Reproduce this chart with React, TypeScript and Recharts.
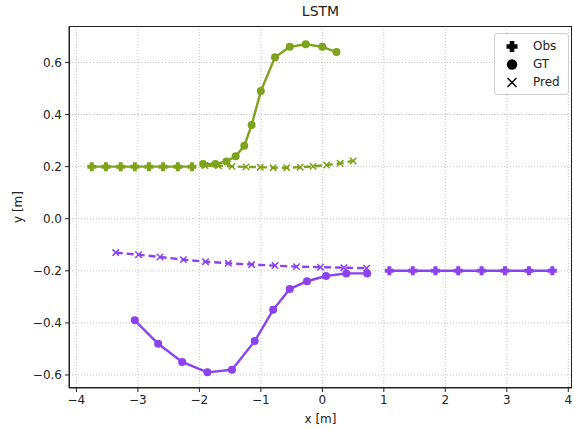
import { Scatter, ScatterChart, XAxis, YAxis, CartesianGrid } from "recharts"

const GREEN = "#7da21b"
const PURPLE = "#8a43ee"
const GRID_COLOR = "#c4c4c4"
const FONT = "'DejaVu Sans', sans-serif"

// agent 1 (green)
const greenObsX = [-3.75, -3.52, -3.28, -3.05, -2.82, -2.59, -2.35, -2.12]
const greenObsY = [0.2, 0.2, 0.2, 0.2, 0.2, 0.2, 0.2, 0.2]
const greenGtX = [-1.94, -1.74, -1.56, -1.41, -1.27, -1.15, -1.0, -0.77, -0.53, -0.27, 0.0, 0.23]
const greenGtY = [0.21, 0.21, 0.22, 0.24, 0.28, 0.36, 0.49, 0.62, 0.66, 0.67, 0.66, 0.64]
const greenPredX = [-1.91, -1.69, -1.47, -1.24, -1.01, -0.8, -0.58, -0.36, -0.15, 0.07, 0.29, 0.5]
const greenPredY = [0.204, 0.203, 0.201, 0.199, 0.198, 0.196, 0.196, 0.198, 0.201, 0.206, 0.213, 0.222]

// agent 2 (purple)
const purpleObsX = [1.09, 1.47, 1.84, 2.21, 2.59, 2.97, 3.36, 3.74]
const purpleObsY = [-0.2, -0.2, -0.2, -0.2, -0.2, -0.2, -0.2, -0.2]
const purpleGtX = [-3.05, -2.67, -2.28, -1.87, -1.47, -1.1, -0.8, -0.53, -0.25, 0.06, 0.39, 0.73]
const purpleGtY = [-0.39, -0.48, -0.55, -0.59, -0.58, -0.47, -0.35, -0.27, -0.24, -0.22, -0.21, -0.21]
const purplePredX = [-3.36, -2.99, -2.64, -2.26, -1.9, -1.53, -1.15, -0.77, -0.42, -0.03, 0.35, 0.72]
const purplePredY = [-0.13, -0.138, -0.147, -0.157, -0.165, -0.171, -0.176, -0.18, -0.184, -0.186, -0.188, -0.19]

const xTicks = [-4, -3, -2, -1, 0, 1, 2, 3, 4]
const yTicks = [-0.6, -0.4, -0.2, 0.0, 0.2, 0.4, 0.6]
const legendLabels = ["Obs", "GT", "Pred"]

const zip = (xs: number[], ys: number[]) => xs.map((x, i) => ({ x, y: ys[i] }))

const minus = (s: string) => s.replace("-", "\u2212")

// plot box (px) — used for frame, title and legend placement
const PLOT = { left: 69, top: 26, right: 572, bottom: 388 }

function PlusMark({ cx, cy, fill, s = 4.5, t = 2 }: any) {
	const a = s
	const d = `M${cx - t},${cy - a} H${cx + t} V${cy - t} H${cx + a} V${cy + t} H${cx + t} V${cy + a} H${cx - t} V${cy + t} H${cx - a} V${cy - t} H${cx - t} Z`
	return <path d={d} fill={fill} />
}

function DotMark({ cx, cy, fill, r = 4 }: any) {
	return <circle cx={cx} cy={cy} r={r} fill={fill} />
}

function XMark({ cx, cy, stroke, s = 3.2, w = 1.5 }: any) {
	return (
		<g stroke={stroke} strokeWidth={w}>
			<line x1={cx - s} y1={cy - s} x2={cx + s} y2={cy + s} />
			<line x1={cx - s} y1={cy + s} x2={cx + s} y2={cy - s} />
		</g>
	)
}

function LegendBox() {
	return (
		<div
			style={{
				position: "absolute",
				top: 33,
				left: 494,
				border: "1px solid #d0d0d0",
				borderRadius: 3,
				background: "rgba(255,255,255,0.85)",
				width: 75,
				height: 62,
				boxSizing: "border-box",
				fontFamily: FONT,
				fontSize: 12,
				color: "#222",
			}}
		>
			{legendLabels.map((label, i) => (
				<div key={label} style={{ position: "absolute", top: 4 + i * 18, left: 0, height: 17, width: 74 }}>
					<svg width={30} height={17} style={{ position: "absolute", left: 4, top: 0 }}>
						{i === 0 && <PlusMark cx={13} cy={8.5} fill="#000" s={5.5} t={2.3} />}
						{i === 1 && <DotMark cx={13} cy={8.5} fill="#000" r={5.2} />}
						{i === 2 && <XMark cx={13} cy={8.5} stroke="#000" s={4.5} w={1.3} />}
					</svg>
					<span style={{ position: "absolute", left: 38, top: 0, lineHeight: "17px" }}>{label}</span>
				</div>
			))}
		</div>
	)
}

const XLabel = ({ viewBox }: any) => (
	<text x={viewBox.x + viewBox.width / 2} y={viewBox.y + 35} textAnchor="middle" fontSize={12} fill="#222" fontFamily={FONT}>
		x [m]
	</text>
)

const YLabel = ({ viewBox }: any) => {
	const cx = 18
	const cy = viewBox.y + viewBox.height / 2
	return (
		<text x={cx} y={cy} transform={`rotate(-90 ${cx} ${cy})`} textAnchor="middle" dominantBaseline="central" fontSize={12} fill="#222" fontFamily={FONT}>
			y [m]
		</text>
	)
}

const tickStyle = { fontSize: 12, fill: "#222", fontFamily: FONT }

export default function App() {
	const series = [
		{ data: zip(greenObsX, greenObsY), color: GREEN, kind: "obs" },
		{ data: zip(greenGtX, greenGtY), color: GREEN, kind: "gt" },
		{ data: zip(greenPredX, greenPredY), color: GREEN, kind: "pred" },
		{ data: zip(purpleObsX, purpleObsY), color: PURPLE, kind: "obs" },
		{ data: zip(purpleGtX, purpleGtY), color: PURPLE, kind: "gt" },
		{ data: zip(purplePredX, purplePredY), color: PURPLE, kind: "pred" },
	]

	return (
		<div style={{ position: "absolute", left: 0, top: 0, width: 574, height: 430, background: "#fff" }}>
			<div
				style={{
					position: "absolute",
					top: 3,
					left: PLOT.left,
					width: PLOT.right - PLOT.left,
					textAlign: "center",
					fontFamily: FONT,
					fontSize: 14,
					color: "#222",
				}}
			>
				LSTM
			</div>
			<ScatterChart width={574} height={430} margin={{ top: PLOT.top, right: 574 - PLOT.right, left: 0, bottom: 0 }}>
				<CartesianGrid stroke={GRID_COLOR} strokeDasharray="1 2" horizontalValues={yTicks} verticalValues={xTicks} />
				<XAxis
					type="number"
					dataKey="x"
					domain={[-4.12, 4.06]}
					ticks={xTicks}
					allowDataOverflow
					height={430 - PLOT.bottom}
					tick={tickStyle}
					tickFormatter={(v: number) => minus(String(v))}
					tickSize={4}
					tickMargin={3}
					stroke="#222"
					label={<XLabel />}
				/>
				<YAxis
					type="number"
					dataKey="y"
					domain={[-0.65, 0.74]}
					ticks={yTicks}
					allowDataOverflow
					width={PLOT.left}
					tick={tickStyle}
					tickFormatter={(v: number) => minus(v.toFixed(1))}
					tickSize={4}
					tickMargin={3}
					stroke="#222"
					label={<YLabel />}
				/>
				{series.map((s, i) => (
					<Scatter
						key={i}
						data={s.data}
						isAnimationActive={false}
						fill={s.color}
						line={{
							stroke: s.color,
							strokeWidth: 2.4,
							strokeDasharray: s.kind === "pred" ? "7 4" : undefined,
						}}
						lineType="joint"
						shape={(p: any) =>
							s.kind === "obs" ? (
								<PlusMark cx={p.cx} cy={p.cy} fill={s.color} />
							) : s.kind === "gt" ? (
								<DotMark cx={p.cx} cy={p.cy} fill={s.color} />
							) : (
								<XMark cx={p.cx} cy={p.cy} stroke={s.color} />
							)
						}
					/>
				))}
			</ScatterChart>
			{/* axes frame (top/right spines) */}
			<div
				style={{
					position: "absolute",
					left: PLOT.left,
					top: PLOT.top,
					width: PLOT.right - PLOT.left,
					height: PLOT.bottom - PLOT.top,
					border: "1px solid #222",
					boxSizing: "border-box",
					pointerEvents: "none",
				}}
			/>
			<LegendBox />
		</div>
	)
}
